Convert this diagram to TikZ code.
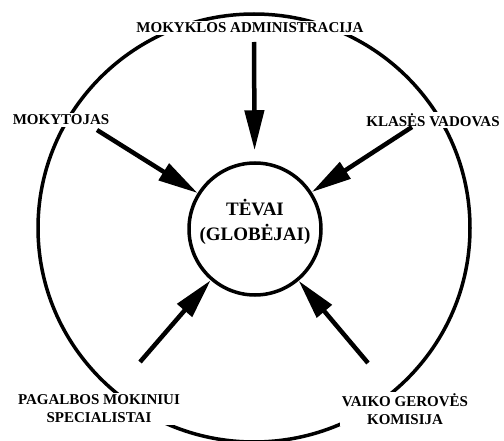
\documentclass[tikz,border=0pt]{standalone}
\usepackage{fontspec}
\setmainfont{Liberation Serif}
\usetikzlibrary{arrows.meta}
\definecolor{ink}{RGB}{0,0,0}
\tikzset{
  >={Triangle[length=40pt,width=19pt]},
  ring/.style={draw=ink,line width=3.5pt},
  hub/.style={circle,draw=ink,line width=3.5pt,fill=white,minimum size=132pt,inner sep=0pt},
  hubtext/.style={align=center,text=ink,font=\fontsize{19}{25}\selectfont\bfseries},
  actor/.style={fill=white,inner sep=1.5pt,align=center,text=ink,
    font=\fontsize{15}{18}\selectfont\bfseries},
  push/.style={->,line width=4.5pt,draw=ink},
}

\begin{document}
\begin{tikzpicture}[x=1pt,y=-1pt]
  \useasboundingbox (0,0) rectangle (504,441);
  \draw[ring] (254,228) ellipse [x radius=216,y radius=214];
  % participants round the ring
  \node[actor] (adm) at (250,28) {MOKYKLOS ADMINISTRACIJA};
  \node[actor] (mok) at (61,120) {MOKYTOJAS};
  \node[actor] (klas) at (433,120) {KLASĖS VADOVAS};
  \node[actor] (pag) at (99,409) {PAGALBOS MOKINIUI\\SPECIALISTAI};
  \node[actor] (vaik) at (405,409) {VAIKO GEROVĖS\\KOMISIJA};
  % parents in the middle
  \node[hub] (tevai) at (255,229) {};
  \node[hubtext] (tevaitxt) at (255,222) {TĖVAI\\(GLOBĖJAI)};
  \foreach \n/\x/\y/\s in {adm/254/42/11pt,mok/97/130/0pt,klas/412/127/0pt,pag/140/362/0pt,vaik/368/363/0pt}{
    \coordinate (from\n) at (\x,\y);
    \draw[push,shorten >=\s] (from\n) -- (tevai);
  }
\end{tikzpicture}
\end{document}
